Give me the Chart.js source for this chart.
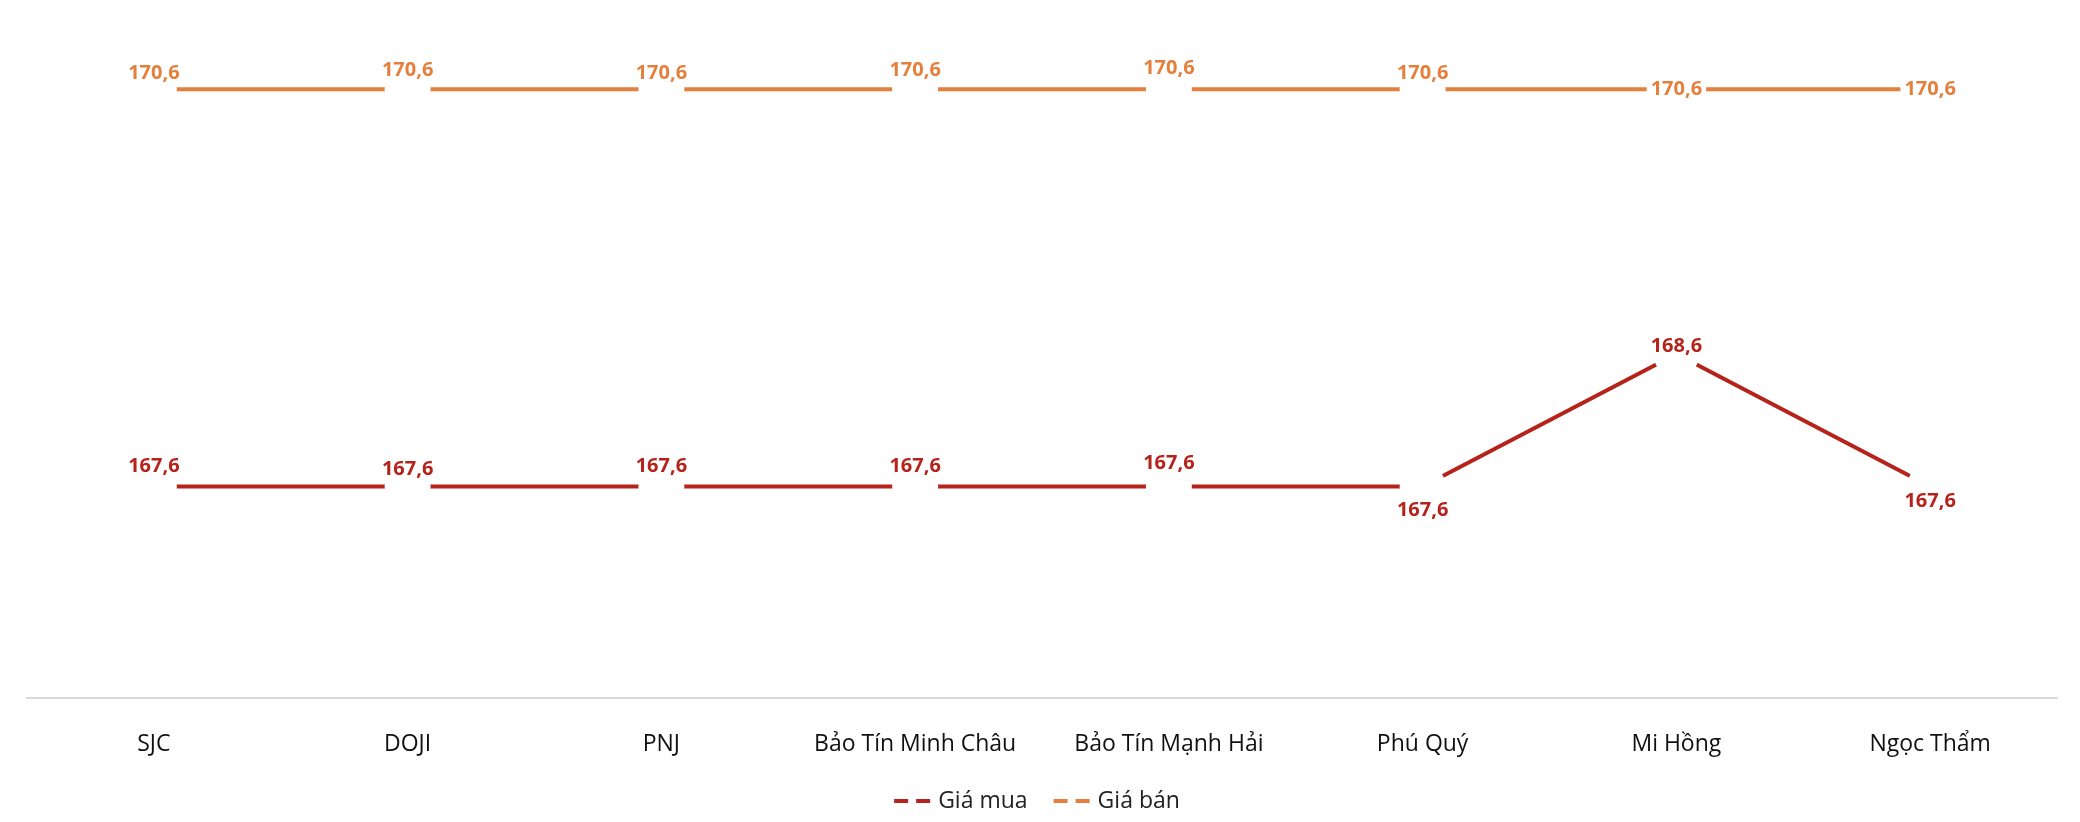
<!DOCTYPE html>
<html>
<head>
<meta charset="utf-8">
<script src="https://cdn.jsdelivr.net/npm/chart.js@4.4.1/dist/chart.umd.min.js"></script>
<style>
  html, body { margin: 0; padding: 0; background: #fff; }
  #wrap { width: 2080px; height: 822px; }
</style>
</head>
<body>
<div id="wrap"><canvas id="c" width="2080" height="822"></canvas></div>
<script>
const categories = ['SJC', 'DOJI', 'PNJ', 'Bảo Tín Minh Châu', 'Bảo Tín Mạnh Hải', 'Phú Quý', 'Mi Hồng', 'Ngọc Thẩm'];
const buyPrices  = [167.6, 167.6, 167.6, 167.6, 167.6, 167.6, 168.6, 167.6];
const sellPrices = [170.6, 170.6, 170.6, 170.6, 170.6, 170.6, 170.6, 170.6];

// label vertical offsets (px) from each point
const labelOffsets = [
  [-20, -17, -20, -20, -23, 24, -8, 15],
  [-16, -19, -16, -19, -21, -16, 0, 0]
];

const BUY = '#b5231b';
const SELL = '#e57f3c';

// value labels with white backing, like the source
const valueLabels = {
  id: 'valueLabels',
  afterDatasetsDraw(chart) {
    const ctx = chart.ctx;
    ctx.save();
    ctx.font = 'bold 20px "Open Sans"';
    ctx.textAlign = 'center';
    ctx.textBaseline = 'middle';
    chart.data.datasets.forEach((ds, di) => {
      chart.getDatasetMeta(di).data.forEach((pt, i) => {
        const txt = ds.data[i].toFixed(1).replace('.', ',');
        const y = pt.y + labelOffsets[di][i];
        const w = ctx.measureText(txt).width + 8;
        ctx.fillStyle = '#fff';
        ctx.fillRect(pt.x - w / 2, y - 12, w, 24);
        ctx.fillStyle = ds.borderColor;
        ctx.fillText(txt, pt.x, y);
      });
    });
    ctx.restore();
  }
};

// dashed-marker legend at the bottom
const dashLegend = {
  id: 'dashLegend',
  afterDraw(chart) {
    const ctx = chart.ctx;
    ctx.save();
    ctx.font = '23px "Open Sans"';
    ctx.textBaseline = 'middle';
    const y = 801;
    const items = chart.data.datasets.map(d => ({ label: d.label, color: d.borderColor }));
    const widths = items.map(it => 50 + ctx.measureText(it.label).width);
    const total = widths.reduce((a, b) => a + b, 0) + 20;
    let x = 1040 - total / 2;
    items.forEach((it, i) => {
      ctx.strokeStyle = it.color;
      ctx.lineWidth = 4;
      ctx.setLineDash([14, 8]);
      ctx.beginPath();
      ctx.moveTo(x, y);
      ctx.lineTo(x + 40, y);
      ctx.stroke();
      ctx.setLineDash([]);
      ctx.fillStyle = '#222';
      ctx.fillText(it.label, x + 44, y);
      x += widths[i] + 20;
    });
    ctx.restore();
  }
};

// white point discs leave the small gaps at each category
const gapPoint = { pointRadius: 23, pointBackgroundColor: '#fff', pointBorderWidth: 0, pointHoverRadius: 23 };

new Chart(document.getElementById('c'), {
  type: 'line',
  data: {
    labels: categories,
    datasets: [
      { label: 'Giá mua', data: buyPrices, borderColor: BUY, backgroundColor: BUY, borderWidth: 4, tension: 0, ...gapPoint },
      { label: 'Giá bán', data: sellPrices, borderColor: SELL, backgroundColor: SELL, borderWidth: 4, tension: 0, ...gapPoint }
    ]
  },
  options: {
    responsive: false,
    animation: false,
    layout: { padding: { left: 27, right: 13, top: 20, bottom: 40 } },
    plugins: { legend: { display: false }, tooltip: { enabled: false } },
    scales: {
      x: {
        offset: true,
        grid: { display: false },
        border: { color: '#d9d9d9', width: 2 },
        ticks: { color: '#111', font: { size: 23, family: 'Open Sans' }, padding: 24, maxRotation: 0 }
      },
      y: { display: false, min: 166.0, max: 171.1 }
    }
  },
  plugins: [valueLabels, dashLegend]
});
</script>
</body>
</html>
